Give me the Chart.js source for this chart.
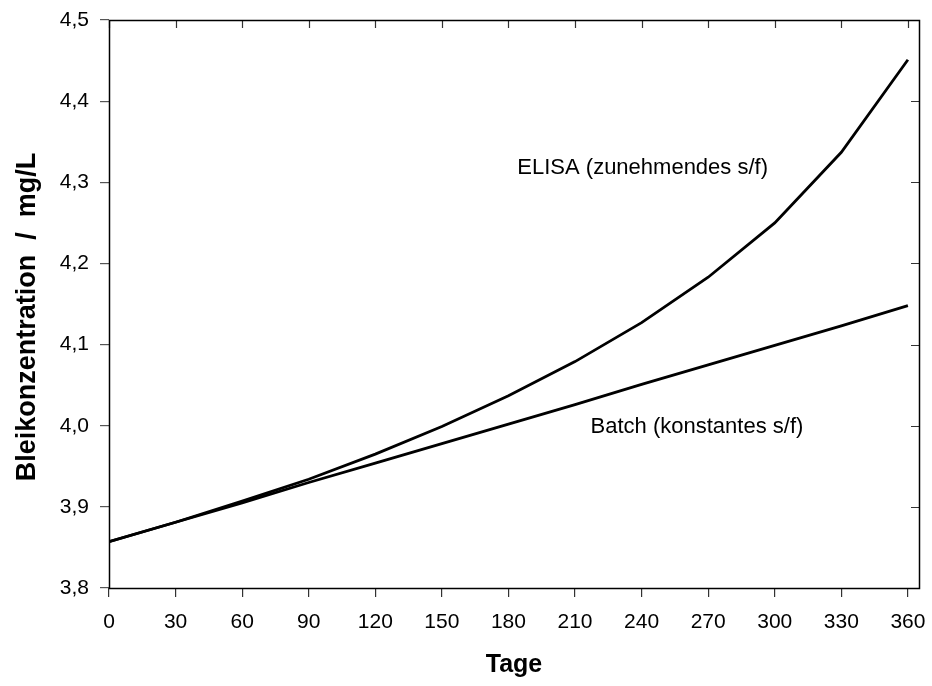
<!DOCTYPE html>
<html>
<head>
<meta charset="utf-8">
<script src="https://cdn.jsdelivr.net/npm/chart.js@4"></script>
<style>
html,body{margin:0;padding:0;background:#fff;}
#wrap{width:932px;height:686px;position:relative;}
</style>
</head>
<body>
<div id="wrap"><canvas id="c" width="932" height="686"></canvas></div>
<script>
const days = [0, 30, 60, 90, 120, 150, 180, 210, 240, 270, 300, 330, 360];
const elisa = [3.857, 3.881, 3.907, 3.934, 3.965, 3.999, 4.037, 4.079, 4.127, 4.183, 4.250, 4.337, 4.451];
const batch = [3.857, 3.881, 3.905, 3.930, 3.954, 3.978, 4.002, 4.026, 4.051, 4.075, 4.099, 4.123, 4.148];
const xTicks = [0, 30, 60, 90, 120, 150, 180, 210, 240, 270, 300, 330, 360];
const yTicks = [3.8, 3.9, 4.0, 4.1, 4.2, 4.3, 4.4, 4.5];
const xTitle = 'Tage';
const yTitle = 'Bleikonzentration  /  mg/L';
const labels = [
  {text: 'ELISA (zunehmendes s/f)', x: 184, y: 4.318},
  {text: 'Batch (konstantes s/f)', x: 217, y: 3.999}
];

const FONT = "'Liberation Sans', Arial, sans-serif";

const framePlugin = {
  id: 'frame',
  afterDraw(chart) {
    const ctx = chart.ctx;
    const xs = chart.scales.x, ys = chart.scales.y;
    const a = chart.chartArea;
    ctx.save();
    // inner ticks on top and right
    ctx.strokeStyle = '#333';
    ctx.lineWidth = 1.2;
    ctx.beginPath();
    xTicks.forEach(v => {
      const px = Math.round(xs.getPixelForValue(v)) + 0.5;
      ctx.moveTo(px, a.top); ctx.lineTo(px, a.top + 8);
    });
    yTicks.forEach(v => {
      const py = Math.round(ys.getPixelForValue(v)) + 0.5;
      ctx.moveTo(a.right, py); ctx.lineTo(a.right - 8, py);
    });
    ctx.stroke();
    // frame
    ctx.strokeStyle = '#000';
    ctx.lineWidth = 1.5;
    ctx.strokeRect(Math.round(a.left) + 0.5, Math.round(a.top) + 0.5,
                   Math.round(a.right - a.left), Math.round(a.bottom - a.top));
    // annotations
    ctx.fillStyle = '#000';
    ctx.font = "22px " + FONT;
    ctx.textAlign = 'left';
    ctx.textBaseline = 'middle';
    labels.forEach(l => {
      ctx.fillText(l.text, xs.getPixelForValue(l.x), ys.getPixelForValue(l.y));
    });
    // y axis title
    ctx.save();
    ctx.translate(28, (a.top + a.bottom) / 2 + 13);
    ctx.rotate(-Math.PI / 2);
    ctx.font = "bold 27px " + FONT;
    ctx.textAlign = 'center';
    ctx.textBaseline = 'middle';
    ctx.fillText(yTitle, 0, 0);
    ctx.restore();
    ctx.restore();
  }
};

new Chart(document.getElementById('c'), {
  type: 'line',
  data: {
    datasets: [
      {label: 'ELISA', data: days.map((d, i) => ({x: d, y: elisa[i]})),
       borderColor: '#000', borderWidth: 2.8, pointRadius: 0, tension: 0, fill: false},
      {label: 'Batch', data: days.map((d, i) => ({x: d, y: batch[i]})),
       borderColor: '#000', borderWidth: 2.8, pointRadius: 0, tension: 0, fill: false}
    ]
  },
  options: {
    responsive: false,
    animation: false,
    layout: {padding: {top: 20, right: 13, bottom: 0, left: 0}},
    plugins: {legend: {display: false}, tooltip: {enabled: false}},
    scales: {
      x: {
        type: 'linear', min: 0, max: 365,
        afterBuildTicks(s) { s.ticks = xTicks.map(v => ({value: v})); },
        afterFit(s) { s.height = 98; s.paddingLeft = 0; s.paddingRight = 0; },
        grid: {drawOnChartArea: false, drawTicks: true, tickLength: 9, color: '#333', lineWidth: 1.2},
        border: {display: false},
        ticks: {color: '#000', font: {family: FONT, size: 21}, padding: 13, maxRotation: 0,
                callback: v => String(v)},
        title: {display: true, text: xTitle, color: '#000',
                font: {family: FONT, size: 25, weight: 'bold'}, padding: {top: 0, bottom: 6}}
      },
      y: {
        type: 'linear', min: 3.8, max: 4.5,
        afterBuildTicks(s) { s.ticks = yTicks.map(v => ({value: v})); },
        afterFit(s) { s.width = 109; s.paddingTop = 0; s.paddingBottom = 0; },
        grid: {drawOnChartArea: false, drawTicks: true, tickLength: 9, color: '#555', lineWidth: 1.2},
        border: {display: false},
        ticks: {color: '#000', font: {family: FONT, size: 21}, padding: 11,
                callback: v => v.toFixed(1).replace('.', ',')},
        title: {display: false}
      }
    }
  },
  plugins: [framePlugin]
});
</script>
</body>
</html>
